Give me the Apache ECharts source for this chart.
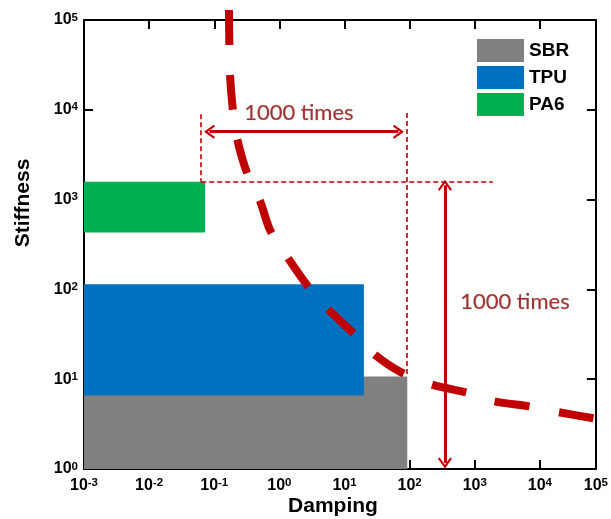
<!DOCTYPE html>
<html>
<head>
<meta charset="utf-8">
<script src="https://cdn.jsdelivr.net/npm/echarts@6/dist/echarts.min.js"></script>
<style>
  html, body { margin: 0; padding: 0; background: #ffffff; }
  #chart { width: 611px; height: 519px; }
</style>
</head>
<body>
<div id="chart"></div>
<script>
// Material regions in the damping / stiffness plane
const materials = ['SBR', 'TPU', 'PA6'];
const materialColors = ['#808080', '#0070c0', '#00b050'];
const dampingLow = [0.001, 0.001, 0.001];
const dampingHigh = [127, 27.4, 0.1];
const stiffnessLow = [1, 6.58, 430];
const stiffnessHigh = [10.7, 114, 1579];

// Trade-off boundary curve
const curveDamping = [0.232, 0.235, 0.240, 0.265, 0.308, 0.439, 0.695, 1.0, 1.89, 3.69, 7.48, 18.7, 39.5, 101, 315, 1085, 2530, 10400, 30000, 100000];
const curveStiffness = [129000, 54000, 25500, 10400, 4860, 1985, 972, 452, 221, 111, 61.7, 32.6, 19.0, 12.0, 8.65, 7.05, 5.74, 4.93, 4.23, 3.63];

// Guide lines: [damping1, stiffness1, damping2, stiffness2]
const guideLines = [
  [0.087, 1579, 2620, 1579],
  [0.087, 8950, 0.087, 1579],
  [126, 9190, 126, 11]
];
// Double-headed arrows
const arrowLines = [
  [0.1167, 5700, 92.9, 5700],
  [481, 1445, 481, 1.166]
];
// Annotation texts and their anchors
const annotationText = ['1000 times', '1000 times'];
const annotationDamping = [2.75, 5710];
const annotationStiffness = [9190, 71.9];

// Axis ranges
const X_MIN = Math.pow(10, -2.86);
const X_MAX = 1e5;
const Y_MIN = 1;
const Y_MAX = 1e5;

const RED = '#c00000';
const chevron = 'path://M10,0 L20,13 L17.6,14.6 L10,4.8 L2.4,14.6 L0,13 Z';

// Tick labels written as powers of ten
const powerLabel = v => '{b|10}{s|' + Math.round(Math.log10(v)) + '}';
const tickRich = {
  b: { fontFamily: 'Liberation Sans', fontWeight: 'bold', fontSize: 16, lineHeight: 17, color: '#000' },
  s: { fontFamily: 'Liberation Sans', fontWeight: 'bold', fontSize: 11.5, lineHeight: 11, verticalAlign: 'top', color: '#000' }
};

const axisLine = { show: true, onZero: false, lineStyle: { color: '#000', width: 2 } };
const axisTick = { show: true, inside: true, length: 9, lineStyle: { color: '#000', width: 2 } };

const chart = echarts.init(document.getElementById('chart'), null, { renderer: 'canvas' });

const rectSeries = materials.map((name, i) => ({
  type: 'custom',
  name: name,
  xAxisIndex: 0,
  yAxisIndex: 0,
  silent: true,
  z: 1 + i,
  itemStyle: { color: materialColors[i] },
  data: [[dampingLow[i], dampingHigh[i], stiffnessLow[i], stiffnessHigh[i]]],
  encode: { x: [0, 1], y: [2, 3] },
  renderItem: (params, api) => {
    const p0 = api.coord([Math.max(api.value(0), X_MIN), api.value(3)]);
    const p1 = api.coord([api.value(1), api.value(2)]);
    return {
      type: 'rect',
      shape: { x: p0[0], y: p0[1], width: p1[0] - p0[0], height: p1[1] - p0[1] },
      style: { fill: materialColors[i] }
    };
  }
}));

const option = {
  animation: false,
  backgroundColor: '#ffffff',
  grid: { left: 84, right: 15, top: 20, bottom: 50, containLabel: false },
  legend: {
    data: materials.map(n => ({ name: n, icon: 'rect' })),
    orient: 'vertical',
    left: 477,
    top: 39,
    itemWidth: 47,
    itemHeight: 23,
    itemGap: 4,
    padding: 0,
    selectedMode: false,
    textStyle: { fontFamily: 'Liberation Sans', fontWeight: 'bold', fontSize: 19, color: '#000' }
  },
  xAxis: [
    {
      type: 'log', logBase: 10, min: X_MIN, max: X_MAX, interval: 1, position: 'bottom',
      axisLine: axisLine, axisTick: axisTick, splitLine: { show: false }, minorTick: { show: false },
      axisLabel: { margin: 8, formatter: powerLabel, rich: tickRich }
    },
    {
      type: 'log', logBase: 10, min: X_MIN, max: X_MAX, interval: 1, position: 'top',
      axisLine: axisLine, axisTick: axisTick, splitLine: { show: false },
      axisLabel: { show: false }
    }
  ],
  yAxis: [
    {
      type: 'log', logBase: 10, min: Y_MIN, max: Y_MAX, interval: 1, position: 'left',
      axisLine: axisLine, axisTick: axisTick, splitLine: { show: false }, minorTick: { show: false },
      axisLabel: { margin: 6, formatter: powerLabel, rich: tickRich }
    },
    {
      type: 'log', logBase: 10, min: Y_MIN, max: Y_MAX, interval: 1, position: 'right',
      axisLine: axisLine, axisTick: axisTick, splitLine: { show: false },
      axisLabel: { show: false }
    }
  ],
  graphic: [
    {
      type: 'text', x: 333, y: 506,
      style: { text: 'Damping', font: 'bold 21px "Liberation Sans"', fill: '#000', align: 'center', verticalAlign: 'middle' }
    },
    {
      type: 'text', x: 23, y: 203, rotation: Math.PI / 2,
      style: { text: 'Stiffness', font: 'bold 21px "Liberation Sans"', fill: '#000', align: 'center', verticalAlign: 'middle' }
    }
  ],
  series: [
    ...rectSeries,
    {
      type: 'line',
      name: 'boundary',
      silent: true,
      z: 6,
      clip: false,
      smooth: 0.3,
      showSymbol: false,
      symbol: 'none',
      data: curveDamping.map((d, i) => [d, curveStiffness[i]]),
      lineStyle: { color: RED, width: 8, type: [35, 30], cap: 'butt' }
    },
    {
      type: 'scatter',
      name: 'notes',
      silent: true,
      z: 7,
      symbolSize: 0,
      data: annotationDamping.map((d, i) => ({ value: [d, annotationStiffness[i]], text: annotationText[i] })),
      label: {
        show: true,
        position: 'inside',
        formatter: p => p.data.text,
        fontFamily: 'Lato',
        fontSize: 22,
        color: '#8c0000',
        textBorderColor: 'rgba(120,0,0,0.35)',
        textBorderWidth: 0.6
      },
      markLine: {
        silent: true,
        animation: false,
        label: { show: false },
        emphasis: { disabled: true },
        data: [
          ...guideLines.map(g => [
            { coord: [g[0], g[1]], symbol: 'none', lineStyle: { color: RED, width: 1.6, type: [5, 3] } },
            { coord: [g[2], g[3]], symbol: 'none' }
          ]),
          ...arrowLines.map(a => [
            { coord: [a[0], a[1]], symbol: chevron, symbolSize: [14, 11], lineStyle: { color: RED, width: 3, type: 'solid' } },
            { coord: [a[2], a[3]], symbol: chevron, symbolSize: [14, 11] }
          ])
        ]
      }
    }
  ]
};

chart.setOption(option);
</script>
</body>
</html>
